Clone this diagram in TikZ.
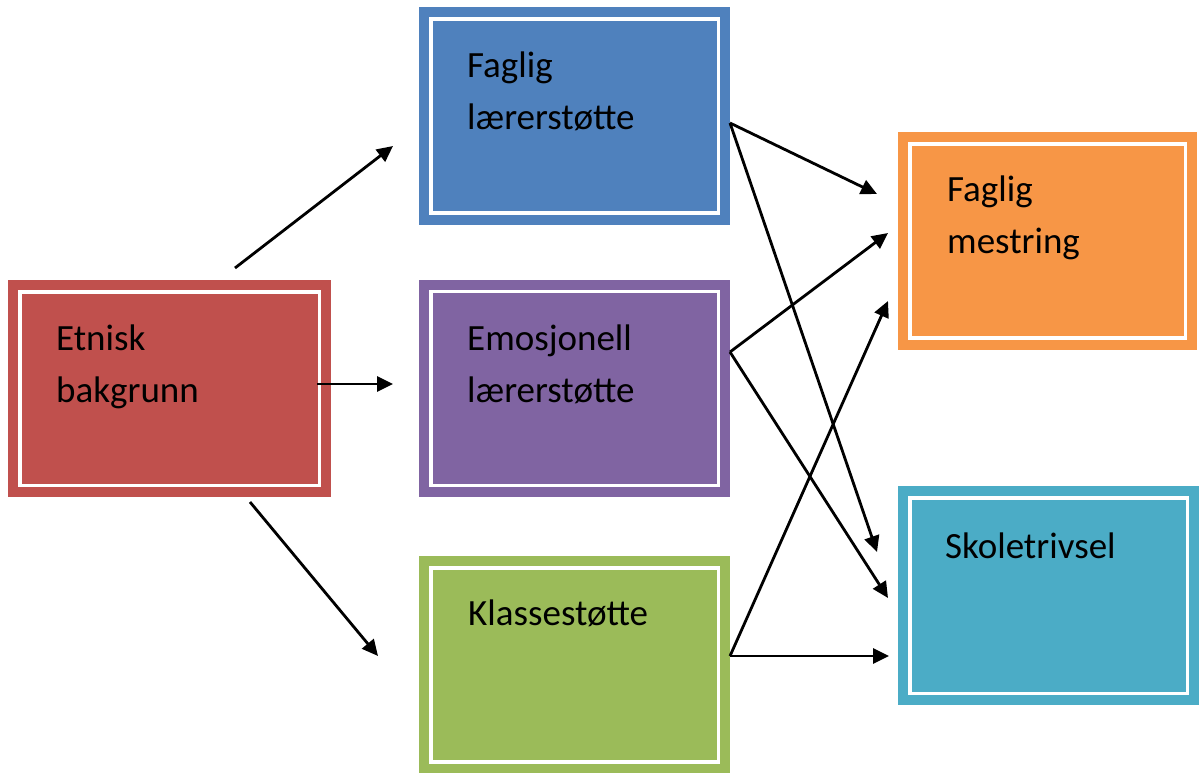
\documentclass[tikz,border=0pt]{standalone}
\usepackage{fontspec}
\setmainfont{Carlito}
\usetikzlibrary{arrows.meta}
\definecolor{boxred}{HTML}{C0504D}
\definecolor{boxblue}{HTML}{4F81BD}
\definecolor{boxpurple}{HTML}{8064A2}
\definecolor{boxgreen}{HTML}{9BBB59}
\definecolor{boxorange}{HTML}{F79646}
\definecolor{boxteal}{HTML}{4BACC6}
\tikzset{
  box/.style={rectangle, fill=#1, draw=#1, double=white, double distance=3.5pt,
    line width=10pt, inner sep=0pt, outer sep=0pt,
    minimum width=287.5pt, minimum height=194pt},
  txt/.style={font=\fontsize{37}{52}\selectfont, align=left, anchor=base west, inner sep=0pt},
  arr/.style={-{Triangle[length=16pt,width=15pt]}, line width=2.8pt}
}
\begin{document}
\begin{tikzpicture}[x=1pt,y=-1pt]
	\useasboundingbox (0,0) rectangle (1199,773);
	
	%BOXES
	\node[box=boxred, minimum width=299.5pt, minimum height=193.5pt] (etnisk) at (169.5,388.5) {};
	\node[box=boxblue] (faglig) at (574.5,116) {};
	\node[box=boxpurple] (emosjonell) at (574.5,388.5) {};
	\node[box=boxgreen] (klasse) at (574.5,665) {};
	\node[box=boxorange, minimum width=275.5pt] (mestring) at (1047.5,241) {};
	\node[box=boxteal, minimum width=277.5pt, minimum height=195.5pt] (trivsel) at (1048.5,595.5) {};
	
	%TEXTS (base = last line)
	\node[txt] (etnisk-t) at (56,402) {Etnisk\\bakgrunn};
	\node[txt] (faglig-t) at (467,130) {Faglig\\lærerstøtte};
	\node[txt] (emosjonell-t) at (467,402) {Emosjonell\\lærerstøtte};
	\node[txt] (klasse-t) at (468,625) {Klassestøtte};
	\node[txt] (mestring-t) at (947,253) {Faglig\\mestring};
	\node[txt] (trivsel-t) at (945,558) {Skoletrivsel};
	
	%ARROW ENDS
	\coordinate (e-up) at (235,268);
	\coordinate (e-mid) at (317,384);
	\coordinate (e-low) at (250,502);
	\coordinate (f-in) at (393,146);
	\coordinate (m-in) at (393,384);
	\coordinate (k-in) at (378,656);
	\coordinate (f-out) at (730,123);
	\coordinate (m-out) at (730,352);
	\coordinate (k-out) at (730,656);
	\coordinate (fm-1) at (877,194);
	\coordinate (fm-2) at (888,233);
	\coordinate (fm-3) at (888,301);
	\coordinate (st-1) at (877,552);
	\coordinate (st-2) at (888,598);
	\coordinate (st-3) at (889,656);
	
	%LEFT ARROWS
	\draw[arr] (e-up)--(f-in);
	\draw[arr] (e-mid)--(m-in);
	\draw[arr] (e-low)--(k-in);
	
	%RIGHT ARROWS
	\draw[arr] (f-out)--(fm-1); %faglig -- mestring
	\draw[arr] (f-out)--(st-1); %faglig -- trivsel
	\draw[arr] (m-out)--(fm-2); %emosjonell -- mestring
	\draw[arr] (m-out)--(st-2); %emosjonell -- trivsel
	\draw[arr] (k-out)--(fm-3); %klasse -- mestring
	\draw[arr] (k-out)--(st-3); %klasse -- trivsel
\end{tikzpicture}
\end{document}
